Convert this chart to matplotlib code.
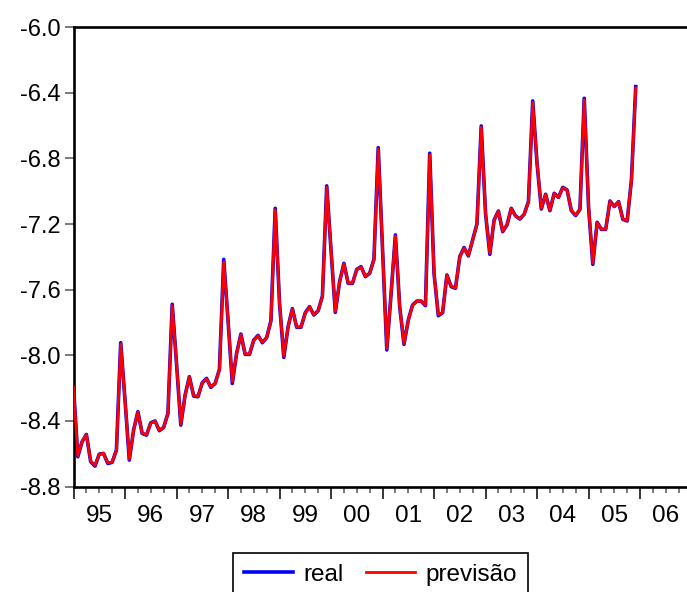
import numpy as np
import matplotlib.pyplot as plt

plt.rcParams["font.family"] = ["Liberation Sans", "DejaVu Sans"]

# monthly series, 1995M01 .. 2005M12
start_year = 1995
real = [
    -8.191, -8.618, -8.526, -8.482, -8.648, -8.675, -8.602, -8.598, -8.659, -8.652, -8.577, -7.923,
    -8.272, -8.638, -8.455, -8.343, -8.476, -8.486, -8.411, -8.400, -8.459, -8.439, -8.354, -7.689,
    -8.049, -8.425, -8.242, -8.130, -8.248, -8.252, -8.167, -8.140, -8.195, -8.171, -8.085, -7.415,
    -7.785, -8.171, -7.988, -7.870, -7.994, -7.994, -7.907, -7.878, -7.923, -7.892, -7.789, -7.104,
    -7.683, -8.012, -7.825, -7.715, -7.829, -7.829, -7.740, -7.703, -7.754, -7.728, -7.638, -6.967,
    -7.358, -7.738, -7.551, -7.439, -7.561, -7.561, -7.476, -7.459, -7.520, -7.500, -7.415, -6.734,
    -7.358, -7.967, -7.622, -7.266, -7.703, -7.933, -7.785, -7.693, -7.669, -7.669, -7.697, -6.768,
    -7.500, -7.758, -7.740, -7.510, -7.581, -7.591, -7.398, -7.343, -7.394, -7.297, -7.199, -6.602,
    -7.134, -7.384, -7.175, -7.120, -7.246, -7.205, -7.104, -7.150, -7.169, -7.140, -7.063, -6.449,
    -6.829, -7.108, -7.018, -7.118, -7.012, -7.037, -6.976, -6.992, -7.118, -7.148, -7.110, -6.433,
    -7.093, -7.445, -7.189, -7.232, -7.232, -7.059, -7.093, -7.063, -7.171, -7.181, -6.931, -6.362,
]
previsao = [
    -8.195, -8.612, -8.524, -8.484, -8.644, -8.670, -8.604, -8.596, -8.655, -8.650, -8.580, -7.930,
    -8.270, -8.632, -8.457, -8.345, -8.474, -8.483, -8.413, -8.402, -8.456, -8.440, -8.356, -7.697,
    -8.045, -8.418, -8.244, -8.133, -8.246, -8.250, -8.169, -8.142, -8.193, -8.172, -8.088, -7.430,
    -7.780, -8.160, -7.990, -7.873, -7.992, -7.992, -7.909, -7.880, -7.921, -7.893, -7.792, -7.112,
    -7.680, -8.005, -7.827, -7.718, -7.827, -7.827, -7.742, -7.705, -7.752, -7.729, -7.641, -6.975,
    -7.355, -7.732, -7.553, -7.442, -7.559, -7.559, -7.478, -7.461, -7.518, -7.501, -7.418, -6.742,
    -7.355, -7.960, -7.620, -7.272, -7.700, -7.928, -7.787, -7.695, -7.670, -7.670, -7.695, -6.776,
    -7.497, -7.752, -7.738, -7.512, -7.579, -7.589, -7.401, -7.346, -7.392, -7.299, -7.202, -6.610,
    -7.131, -7.378, -7.177, -7.122, -7.244, -7.204, -7.106, -7.151, -7.168, -7.141, -7.066, -6.458,
    -6.826, -7.103, -7.020, -7.116, -7.014, -7.038, -6.978, -6.993, -7.116, -7.146, -7.111, -6.442,
    -7.090, -7.438, -7.191, -7.231, -7.231, -7.061, -7.094, -7.064, -7.170, -7.180, -6.935, -6.370,
]
year_labels = ["95", "96", "97", "98", "99", "00", "01", "02", "03", "04", "05", "06"]
y_ticks = [-8.8, -8.4, -8.0, -7.6, -7.2, -6.8, -6.4, -6.0]

t = start_year + np.arange(len(real)) / 12.0

fig = plt.figure(figsize=(6.87, 5.92), dpi=100)
ax = fig.add_axes([0.107, 0.178, 0.8996, 0.776])

ax.plot(t, real, color="blue", lw=2.6, label="real", zorder=2)
ax.plot(t, previsao, color="red", lw=2.0, label="previsão", zorder=3)

ax.set_xlim(1995, 2007)
ax.set_ylim(-8.8, -6.0)

# year boundaries as major ticks, quarters as minor, labels centred in each year
years = np.arange(1995, 2008)
ax.set_xticks(years, [""] * len(years))
quarters = [y + q for y in range(1995, 2007) for q in (0.25, 0.5, 0.75)]
qlabels = [year_labels[int(q) - 1995] if abs(q % 1 - 0.5) < 1e-6 else "" for q in quarters]
ax.set_xticks(quarters, qlabels, minor=True)
ax.tick_params(axis="x", which="major", direction="out", length=8.5, width=1.1, color="black")
ax.tick_params(axis="x", which="minor", direction="out", length=4.5, width=1.1,
               color="#555555", labelsize=17.5, pad=8.5)

ax.set_yticks(y_ticks, [f"{v:.1f}" for v in y_ticks])
ax.tick_params(axis="y", direction="out", length=6.5, width=1.1, color="#555555",
               labelsize=17, pad=3)

for side in ("left", "bottom", "top"):
    ax.spines[side].set_linewidth(1.9)
ax.spines["right"].set_visible(False)

leg = ax.legend(loc="upper center", bbox_to_anchor=(0.554, 0.066),
                bbox_transform=fig.transFigure, ncol=2, fontsize=17.5,
                frameon=True, fancybox=False, framealpha=1, edgecolor="black",
                handlelength=2.0, handletextpad=0.45, columnspacing=0.9,
                borderpad=0.45, borderaxespad=0)
leg.get_frame().set_linewidth(1.2)

fig.savefig("out.png", dpi=100)
